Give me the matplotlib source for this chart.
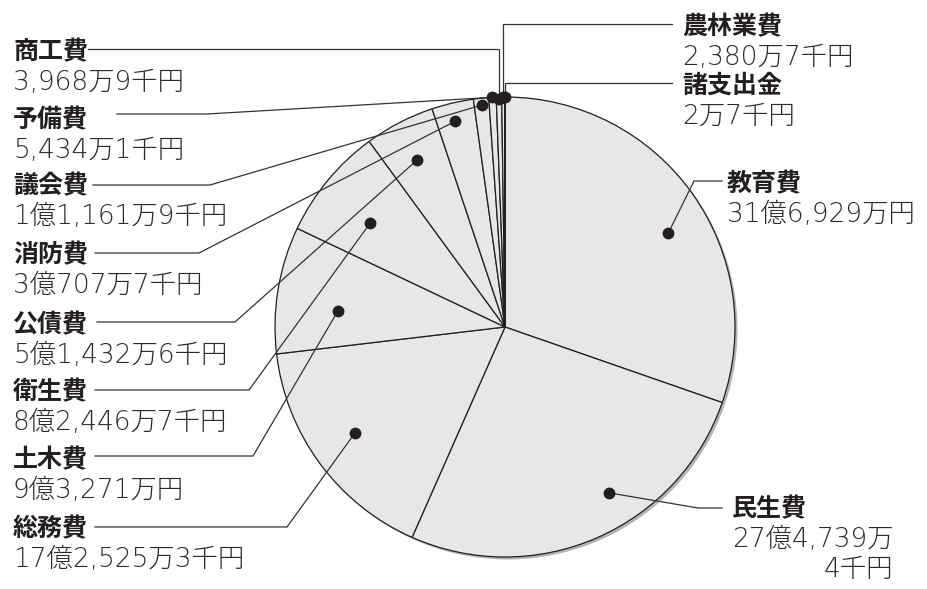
import matplotlib.pyplot as plt
import numpy as np
from matplotlib.patches import Circle

# 歳出内訳 (単位: 万円)
categories = ['教育費', '民生費', '総務費', '土木費', '衛生費', '公債費',
              '消防費', '議会費', '予備費', '商工費', '農林業費', '諸支出金']
amounts = [316929, 274739.4, 172525.3, 93271, 82446.7, 51432.6,
           30707.7, 11161.9, 5434.1, 3968.9, 2380.7, 2.7]
amount_labels = ['31億6,929万円', '27億4,739万\n4千円', '17億2,525万3千円',
                 '9億3,271万円', '8億2,446万7千円', '5億1,432万6千円',
                 '3億707万7千円', '1億1,161万9千円', '5,434万1千円',
                 '3,968万9千円', '2,380万7千円', '2万7千円']

W, H = 928, 589
CX, CY, R = 505, 327, 230  # pie centre and radius, px from top-left

# label layout, px from top-left:
# text x, name centre y, leader start x, leader y, elbow x (None = straight down),
# dot position along slice (0..1), dot radius fraction
layout = [
    (727, 182, 722, 181, 694, 0.55, 0.82),
    (732, 507, 722, 508, 698, 0.41, 0.85),
    (13, 527, 95, 527, 287, 0.52, 0.80),
    (13, 458, 95, 456, 253, 0.38, 0.73),
    (13, 390, 95, 390, 249, 0.43, 0.74),
    (13, 323, 97, 322, 235, 0.47, 0.82),
    (13, 253, 95, 253, 199, 0.45, 0.92),
    (13, 184, 93, 185, 210, 0.50, 0.97),
    (13, 118, 117, 114, 207, 0.50, 1.00),
    (13, 50, 88, 49, None, 0.50, 0.99),
    (682, 25, 672, 24, None, 0.50, 1.00),
    (682, 84, 672, 83, None, 0.50, 1.00),
]

INK = '#231f20'
LINE_STEP = 30  # px between text lines
name_font = dict(family=['Noto Sans CJK JP'], weight='bold', size=18, color=INK)
value_font = dict(family=['DejaVu Sans', 'Noto Sans CJK JP'], weight='light',
                  size=19, color='#2e2a2b')


def Y(y):
    return H - y


fig = plt.figure(figsize=(W / 100, H / 100), dpi=100)
ax = fig.add_axes([0, 0, 1, 1])

# soft shadow on the lower right
ax.add_patch(Circle((CX + 2.5, Y(CY) - 2.5), R, fc='#b4b4b4', ec='none', zorder=0))
ax.pie(amounts, startangle=90, counterclock=False, center=(CX, Y(CY)), radius=R,
       colors=['#e6e7e8'] * len(amounts),
       wedgeprops=dict(edgecolor=INK, linewidth=0.9))
ax.set_xlim(0, W)
ax.set_ylim(0, H)
ax.axis('off')

total = sum(amounts)
cum = np.concatenate([[0], np.cumsum(amounts)]) / total * 360  # clockwise from top

fig.canvas.draw()
renderer = fig.canvas.get_renderer()

for i, cat in enumerate(categories):
    tx, ty, lx, ly, ex, t, f = layout[i]
    ang = np.radians(cum[i] + t * (cum[i + 1] - cum[i]))
    dx = CX + R * f * np.sin(ang)
    dy = Y(CY) + R * f * np.cos(ang)
    if ex is None:
        xs, ys = [lx, dx, dx], [Y(ly), Y(ly), dy]
    else:
        xs, ys = [lx, ex, dx], [Y(ly), Y(ly), dy]
    ax.plot(xs, ys, color='#333333', lw=0.9, zorder=4, solid_joinstyle='miter')
    ax.plot(dx, dy, 'o', ms=7.5, color=INK, zorder=5)

    ax.text(tx, Y(ty + 9), cat, ha='left', va='baseline', **name_font)
    lines = amount_labels[i].split('\n')
    first = ax.text(tx, Y(ty + 40), lines[0], ha='left', va='baseline', **value_font)
    if len(lines) > 1:
        # further lines are right-aligned under the first one
        bb = first.get_window_extent(renderer).transformed(ax.transData.inverted())
        for k, extra in enumerate(lines[1:], start=1):
            ax.text(bb.x1, Y(ty + 40 + k * LINE_STEP), extra, ha='right',
                    va='baseline', **value_font)

fig.savefig('out.png', dpi=100, facecolor='white')
